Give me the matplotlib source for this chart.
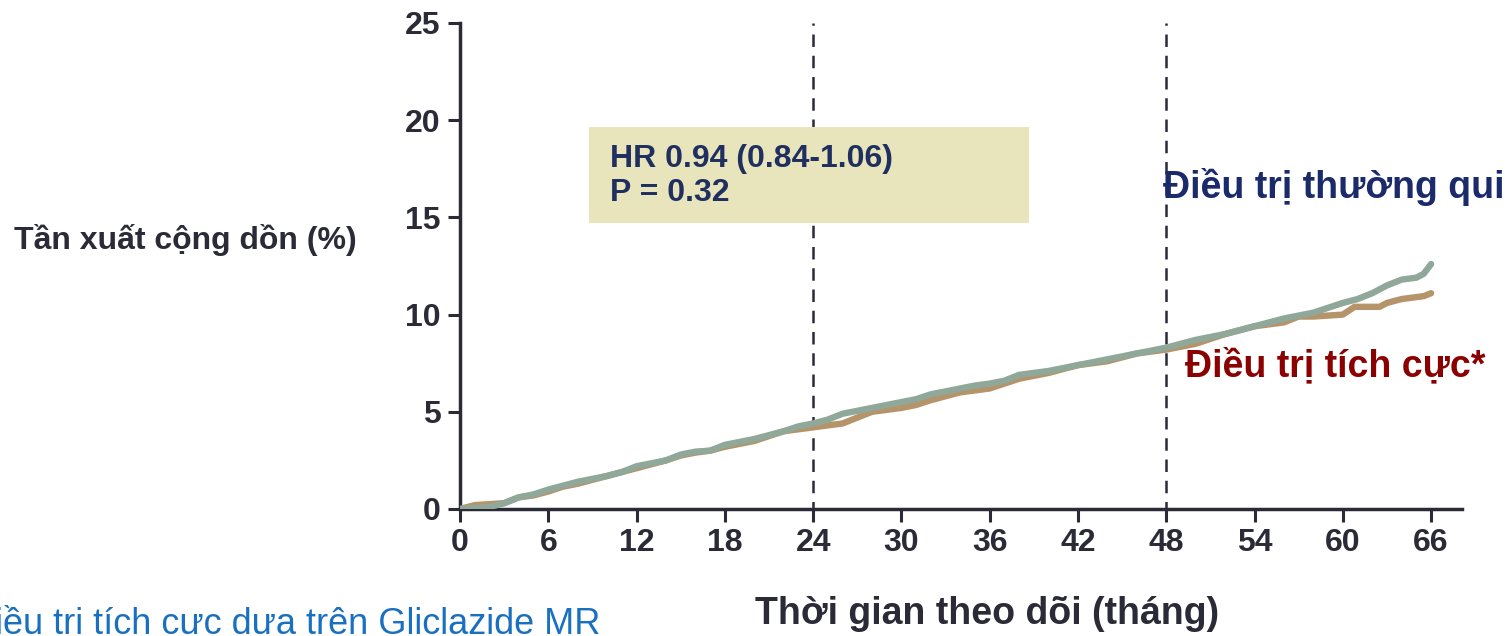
import matplotlib.pyplot as plt

plt.rcParams['font.family'] = ['Liberation Sans', 'DejaVu Sans']

# Thời gian (tháng) và tần xuất cộng dồn (%)
thang_thuong = [0, 1, 2, 3, 4, 5, 6, 7, 8, 9, 10, 11, 12, 13, 14, 15, 16, 17, 18, 19, 20, 21, 22,
                23, 24, 25, 26, 27, 28, 29, 30, 31, 32, 33, 34, 35, 36, 37, 38, 39, 40, 41, 42,
                43, 44, 45, 46, 47, 48, 49, 50, 51, 52, 53, 54, 55, 56, 57, 58, 59, 60, 61, 62,
                63, 64, 65, 65.5, 66]
thuong_qui = [0.0, 0.05, 0.1, 0.3, 0.6, 0.75, 1.0, 1.2, 1.4, 1.55, 1.7, 1.9, 2.2, 2.35, 2.5, 2.8,
              2.95, 3.0, 3.3, 3.45, 3.6, 3.8, 4.0, 4.25, 4.4, 4.6, 4.9, 5.05, 5.2, 5.35, 5.5,
              5.65, 5.9, 6.05, 6.2, 6.35, 6.45, 6.6, 6.9, 7.0, 7.1, 7.25, 7.4, 7.55, 7.7, 7.85,
              8.0, 8.15, 8.3, 8.5, 8.7, 8.85, 9.0, 9.2, 9.4, 9.6, 9.8, 9.95, 10.1, 10.35, 10.6,
              10.8, 11.1, 11.5, 11.8, 11.9, 12.1, 12.6]

thang_tich_cuc = [0, 1, 2, 3, 4, 5, 6, 7, 8, 9, 10, 11, 12, 13, 14, 15, 16, 17, 18, 19, 20, 21, 22,
                  23, 24, 25, 26, 27, 28, 29, 30, 31, 32, 33, 34, 35, 36, 37, 38, 39, 40, 41, 42,
                  43, 44, 45, 46, 47, 48, 49, 50, 51, 52, 53, 54, 55, 56, 57, 58, 59, 60, 60.8,
                  61.5, 62.5, 63, 64, 65, 65.5, 66]
tich_cuc = [0.0, 0.2, 0.25, 0.3, 0.6, 0.7, 0.9, 1.15, 1.3, 1.5, 1.7, 1.9, 2.1, 2.3, 2.5, 2.75,
            2.9, 3.0, 3.2, 3.35, 3.5, 3.75, 4.0, 4.1, 4.2, 4.3, 4.4, 4.7, 5.0, 5.1, 5.2, 5.35,
            5.6, 5.8, 6.0, 6.1, 6.2, 6.45, 6.7, 6.85, 7.0, 7.2, 7.4, 7.5, 7.6, 7.8, 8.0, 8.1,
            8.2, 8.35, 8.5, 8.75, 9.0, 9.2, 9.4, 9.5, 9.6, 9.9, 9.9, 9.95, 10.0, 10.4, 10.4,
            10.4, 10.6, 10.8, 10.9, 10.95, 11.1]

x_ticks = [0, 6, 12, 18, 24, 30, 36, 42, 48, 54, 60, 66]
y_ticks = [0, 5, 10, 15, 20, 25]
moc_thang = [24, 48]

mau_chu = '#2b2b38'

fig = plt.figure(figsize=(15.05, 6.36), dpi=100)
ax = fig.add_axes([460 / 1505, 127 / 636, 1002 / 1505, 486 / 636])

ax.plot(thang_tich_cuc, tich_cuc, color='#b5946a', lw=4.6, solid_capstyle='round',
        solid_joinstyle='round', zorder=3)
ax.plot(thang_thuong, thuong_qui, color='#8fa89a', lw=4.6, solid_capstyle='round',
        solid_joinstyle='round', zorder=4)

for m in moc_thang:
    ax.axvline(m, ymin=0, ymax=1, color=mau_chu, lw=1.8, ls=(2, (5, 3.5)), zorder=2)

ax.set_xlim(0, 68.1)
ax.set_ylim(0, 25)
ax.set_xticks(x_ticks)
ax.set_yticks(y_ticks)
ax.tick_params(axis='both', length=9, width=2.2, color=mau_chu, labelsize=23,
               labelcolor=mau_chu, pad=5)
for lab in ax.get_xticklabels() + ax.get_yticklabels():
    lab.set_fontweight('bold')
for s in ['top', 'right']:
    ax.spines[s].set_visible(False)
for s in ['left', 'bottom']:
    ax.spines[s].set_linewidth(2.5)
    ax.spines[s].set_color(mau_chu)

fig.text(185 / 1505, 1 - 240 / 636, 'Tần xuất cộng dồn (%)', ha='center', va='center',
         fontsize=23, fontweight='bold', color=mau_chu)
fig.text(987 / 1505, 1 - 614 / 636, 'Thời gian theo dõi (tháng)', ha='center', va='center',
         fontsize=27, fontweight='bold', color=mau_chu)

# hộp HR
fig.patches.append(plt.Rectangle((589 / 1505, 1 - 223 / 636), 440 / 1505, 96 / 636,
                                 transform=fig.transFigure, facecolor='#e8e4bb',
                                 edgecolor='none', zorder=1))
fig.text(610 / 1505, 1 - 176 / 636, 'HR 0.94 (0.84-1.06)\nP = 0.32', ha='left', va='center',
         fontsize=23, fontweight='bold', color='#1f2f5f', linespacing=1.2)

fig.text(1163 / 1505, 1 - 187 / 636, 'Điều trị thường qui', ha='left', va='center',
         fontsize=27, fontweight='bold', color='#1a2a6a')
fig.text(1185 / 1505, 1 - 366 / 636, 'Điều trị tích cực*', ha='left', va='center',
         fontsize=27, fontweight='bold', color='#8b0000')

# chú thích bị cắt ở mép trái như bản gốc
fig.text(600 / 1505, 1 - 624 / 636, '*Điều trị tích cực dựa trên Gliclazide MR', ha='right',
         va='center', fontsize=26, color='#1a70c0')

fig.savefig('out.png', dpi=100)
